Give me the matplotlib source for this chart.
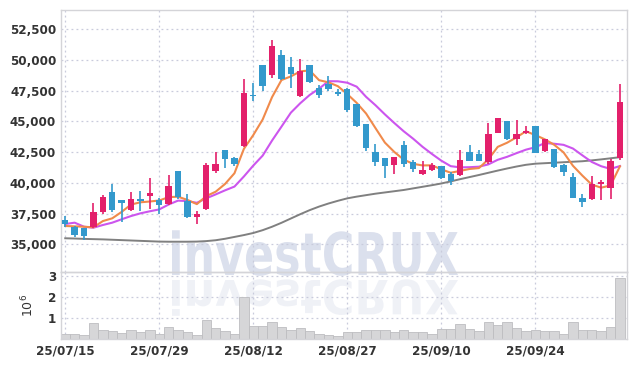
import numpy as np
import matplotlib
matplotlib.use("Agg")
import matplotlib.pyplot as plt
from matplotlib.textpath import TextPath
from matplotlib.patches import PathPatch
from matplotlib.font_manager import FontProperties
import matplotlib.transforms as mtransforms

# ---------------- data ----------------
opens = [37000, 36380, 36300, 36380, 37600, 39230, 38580, 37770, 38660, 38910,
         38580, 38250, 40940, 38520, 37200, 37850, 40970, 42650, 42030, 43020,
         47100, 49570, 48790, 50370, 49460, 47070, 49570, 47700, 48020, 47300,
         47620, 46400, 44770, 42490, 42000, 41430, 43060, 41670, 40700, 41070,
         41370, 40700, 40620, 42520, 42330, 41670, 44090, 45000, 43550, 44030,
         44630, 42560, 42730, 41430, 40480, 38800, 38660, 39880, 39550, 42000]
highs = [37280, 36450, 36350, 38400, 39000, 39880, 38580, 39230, 39310, 40370,
         38750, 40620, 40940, 39070, 37710, 41650, 42490, 42650, 42100, 48430,
         48160, 49600, 51630, 50800, 50260, 50100, 49600, 48000, 48720, 47620,
         47700, 46450, 44800, 43140, 42050, 42100, 43400, 41900, 41800, 41590,
         41400, 40850, 42680, 43060, 42650, 44900, 45300, 45050, 45100, 44650,
         44650, 43600, 42750, 41500, 40800, 39100, 40560, 40240, 41930, 48020]
lows = [36380, 35600, 35330, 36300, 37450, 37600, 36800, 37700, 37690, 37850,
        37500, 38200, 38700, 37100, 36630, 37800, 40840, 41190, 41360, 42950,
        46660, 47440, 48570, 48400, 47750, 47000, 48100, 46940, 47500, 47070,
        45800, 44550, 42600, 41400, 40430, 40700, 41300, 40850, 40650, 40950,
        40300, 39850, 40550, 41750, 41750, 41500, 44050, 43500, 43100, 44000,
        42400, 42500, 41250, 40560, 38750, 38000, 38600, 38600, 38700, 41900]
closes = [36650, 35730, 35650, 37600, 38820, 37770, 38340, 38660, 38500, 39150,
          38170, 39720, 38820, 37200, 37440, 41430, 41510, 41980, 41560, 47350,
          47050, 47850, 51100, 48490, 48840, 49100, 48220, 47130, 47620, 47270,
          45890, 44630, 42810, 41670, 41390, 42080, 41510, 41100, 41020, 41430,
          40430, 40150, 41840, 41800, 41800, 43950, 45260, 43530, 44000, 44250,
          42410, 43550, 41300, 40900, 38800, 38420, 39880, 40050, 41800, 46580]
volumes = [0.24, 0.24, 0.19, 0.75, 0.43, 0.38, 0.27, 0.42, 0.29, 0.42,
           0.24, 0.56, 0.42, 0.32, 0.18, 0.90, 0.51, 0.34, 0.24, 2.00,
           0.61, 0.61, 0.80, 0.56, 0.42, 0.51, 0.34, 0.24, 0.18, 0.14,
           0.30, 0.30, 0.39, 0.39, 0.39, 0.30, 0.42, 0.30, 0.30, 0.24,
           0.47, 0.47, 0.71, 0.47, 0.38, 0.80, 0.67, 0.77, 0.51, 0.34,
           0.42, 0.38, 0.38, 0.24, 0.77, 0.42, 0.42, 0.38, 0.53, 2.92]
# moving-average values before enough in-window closes exist
ma5_head = [36490, 36460, 36430, 36380]
ma10_head = [36650, 36760, 36430, 36350, 36570, 36760, 37035, 37300, 37520]
# long moving average
ma60 = [35490, 35470, 35440, 35420, 35400, 35370, 35340, 35310, 35280, 35250,
        35220, 35210, 35210, 35210, 35220, 35260, 35330, 35450, 35600, 35750,
        35920, 36150, 36430, 36750, 37100, 37450, 37780, 38070, 38320, 38540,
        38740, 38880, 39000, 39120, 39220, 39320, 39420, 39550, 39680, 39810,
        39950, 40120, 40300, 40470, 40640, 40820, 41000, 41170, 41330, 41470,
        41560, 41600, 41640, 41680, 41720, 41760, 41830, 41910, 42000, 42090]
tick_labels = ['25/07/15', '25/07/29', '25/08/12', '25/08/27', '25/09/10', '25/09/24']
tick_index = [0, 10, 20, 30, 40, 50]
price_ticks = [35000, 37500, 40000, 42500, 45000, 47500, 50000, 52500]
vol_ticks = [1, 2, 3]

# ---------------- figure ----------------
W, H = 634, 366
fig = plt.figure(figsize=(W / 100, H / 100), dpi=100)
fig.patch.set_facecolor('white')

UP = '#e3206b'
DOWN = '#3399cc'
GRID = '#c9cbdc'
SPINE = '#d4d4d8'
TXT = '#333333'

tick_font = dict(family='DejaVu Sans', stretch='condensed', size=9.5, weight='semibold')

ax = fig.add_axes([61 / W, 1 - 272 / H, 566 / W, 262 / H])
axv = fig.add_axes([61 / W, 1 - 338.5 / H, 566 / W, 66.5 / H], sharex=ax)
for a in (ax, axv):
    a.set_facecolor('none')
    for s in a.spines.values():
        s.set_color(SPINE)
        s.set_linewidth(1.0)
    a.tick_params(length=0, colors=TXT)
    a.grid(True, linestyle=(0, (1.5, 2.5)), color=GRID, linewidth=0.9)
    a.set_axisbelow(True)

n = len(closes)
x = np.arange(n)
o = np.array(opens, float)
c = np.array(closes, float)
hi = np.array(highs, float)
lo = np.array(lows, float)
up = c >= o
cols = np.where(up, UP, DOWN)

# moving averages
ma5 = np.array(ma5_head + [np.mean(c[i - 4:i + 1]) for i in range(4, n)])
ma10 = np.array(ma10_head + [np.mean(c[i - 9:i + 1]) for i in range(9, n)])
ax.plot(x, ma60, color='#808080', lw=1.4, zorder=2)
ax.plot(x, ma10, color='#cc55ee', lw=1.5, zorder=2)
ax.plot(x, ma5, color='#f08a4b', lw=1.5, zorder=2)

# candles
ax.vlines(x, lo, hi, colors=cols, lw=1.2, zorder=3)
body_bottom = np.minimum(o, c)
body_h = np.maximum(np.abs(c - o), 90)
ax.bar(x, body_h, bottom=body_bottom, width=0.68, color=cols, linewidth=0, zorder=4)

ax.set_xlim(-0.45, n - 0.25)
ax.set_ylim(32745, 54070)
ax.set_yticks(price_ticks)
ax.set_yticklabels([f'{v:,}' for v in price_ticks], fontdict=tick_font)
ax.set_xticks(tick_index)
plt.setp(ax.get_xticklabels(), visible=False)

# volume
axv.bar(x, volumes, width=1.0, color='#d6d6d8', edgecolor='#bdbdc0', linewidth=0.6, zorder=2)
axv.set_ylim(0, 3.2)
axv.set_yticks(vol_ticks)
axv.set_yticklabels([str(v) for v in vol_ticks], fontdict=tick_font)
axv.set_xticks(tick_index)
axv.set_xticklabels(tick_labels, fontdict=tick_font)
axv.tick_params(axis='x', pad=4)
axv.set_ylabel('$10^6$', fontsize=9, color=TXT, labelpad=8)

# watermark with reflection
fp = FontProperties(family='DejaVu Sans', weight='bold')
tp = TextPath((0, 0), 'investCRUX', size=1, prop=fp)
ext = tp.get_extents()
x0, x1 = 172, 458
base = 275
cap = 43
sx = (x1 - x0) / ext.width
sy = cap / 0.73
t_main = (mtransforms.Affine2D().translate(-ext.x0, 0).scale(sx / W, sy / H)
          .translate(x0 / W, (H - base) / H) + fig.transFigure)
p1 = PathPatch(tp, facecolor='#c6cde2', edgecolor='none', alpha=0.62,
               transform=t_main, zorder=-1)
fig.patches.append(p1)
t_ref = (mtransforms.Affine2D().translate(-ext.x0, 0).scale(sx / W, -sy * 0.8 / H)
         .translate(x0 / W, (H - base - 5) / H) + fig.transFigure)
p2 = PathPatch(tp, facecolor='#c6cde2', edgecolor='none', alpha=0.28,
               transform=t_ref, zorder=-1)
fig.patches.append(p2)

fig.savefig('out.png', dpi=100)
